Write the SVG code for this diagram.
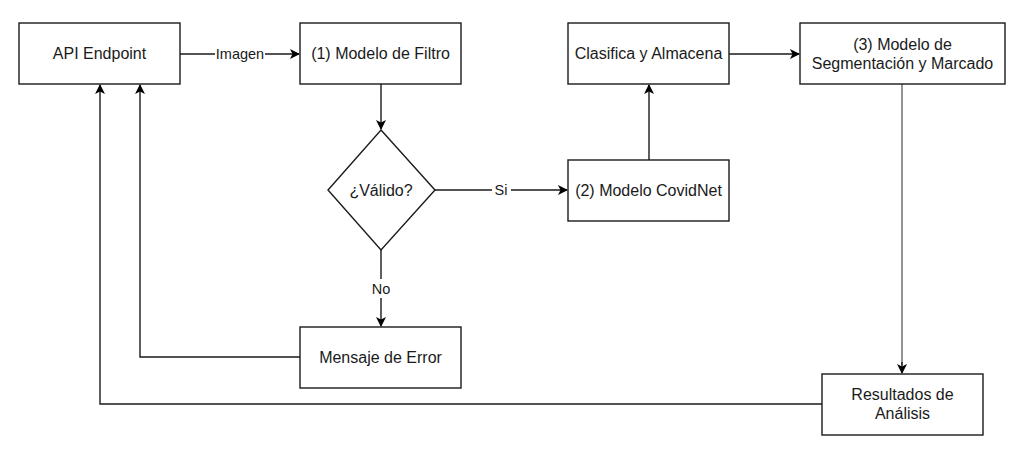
<svg xmlns="http://www.w3.org/2000/svg" width="1019" height="451" viewBox="0 0 1019 451">
<style>
.box{fill:#fff;stroke:#1a1a1a;stroke-width:1.4}
.t{font-family:"Liberation Sans",Arial,sans-serif;font-size:16px;fill:#1a1a1a;text-anchor:middle}
.lb{font-family:"Liberation Sans",Arial,sans-serif;font-size:14.5px;fill:#1a1a1a;text-anchor:middle}
.e{fill:none;stroke:#1a1a1a;stroke-width:1.4}
</style>
<defs>
<marker id="ah" viewBox="0 0 10 10" refX="9" refY="5" markerWidth="10" markerHeight="10" markerUnits="userSpaceOnUse" orient="auto">
<path d="M0,0 L10,5 L0,10 L2.5,5 Z" fill="#000"/>
</marker>
</defs>
<rect width="1019" height="451" fill="#fff"/>
<g id="connectors">
<path class="e" d="M180,54 H299" marker-end="url(#ah)"/>
<rect x="215" y="45" width="50" height="18" fill="#fff"/>
<text class="lb" x="240" y="59">Imagen</text>
<path class="e" d="M381,84 V129" marker-end="url(#ah)"/>
<path class="e" d="M435,190 H567" marker-end="url(#ah)"/>
<rect x="492" y="181" width="19" height="18" fill="#fff"/>
<text class="lb" x="501" y="195">Si</text>
<path class="e" d="M381,250 V326" marker-end="url(#ah)"/>
<rect x="367" y="279" width="28" height="19" fill="#fff"/>
<text class="lb" x="381" y="294">No</text>
<path class="e" d="M649,160 V85" marker-end="url(#ah)"/>
<path class="e" d="M729,54 H799" marker-end="url(#ah)"/>
<path class="e" d="M902,84 V365" style="stroke:#808080;stroke-width:1.7"/>
<path class="e" d="M902,362 V373" marker-end="url(#ah)"/>
<path class="e" d="M300,357 H140 V85" marker-end="url(#ah)"/>
<path class="e" d="M822,404 H100 V85" marker-end="url(#ah)"/>
</g>
<g id="api"><rect class="box" x="19" y="23" width="161" height="61"/><text class="t" x="99.5" y="59">API Endpoint</text></g>
<g id="filtro"><rect class="box" x="300" y="23" width="161" height="61"/><text class="t" x="380.5" y="59">(1) Modelo de Filtro</text></g>
<g id="valido"><path class="box" d="M381,130 L435,190 L381,250 L328,190 Z"/><text class="t" x="381" y="196">¿Válido?</text></g>
<g id="error"><rect class="box" x="300" y="327" width="161" height="61"/><text class="t" x="380.5" y="363">Mensaje de Error</text></g>
<g id="covidnet"><rect class="box" x="568" y="160" width="161" height="61"/><text class="t" x="648.5" y="196">(2) Modelo CovidNet</text></g>
<g id="clasifica"><rect class="box" x="568" y="23" width="161" height="61"/><text class="t" x="648.5" y="59">Clasifica y Almacena</text></g>
<g id="segmentacion"><rect class="box" x="800" y="23" width="205" height="61"/><text class="t" x="902.5" y="50">(3) Modelo de</text><text class="t" x="902.5" y="69">Segmentación y Marcado</text></g>
<g id="resultados"><rect class="box" x="822" y="374" width="161" height="61"/><text class="t" x="902.5" y="400">Resultados de</text><text class="t" x="902.5" y="419">Análisis</text></g>
</svg>
